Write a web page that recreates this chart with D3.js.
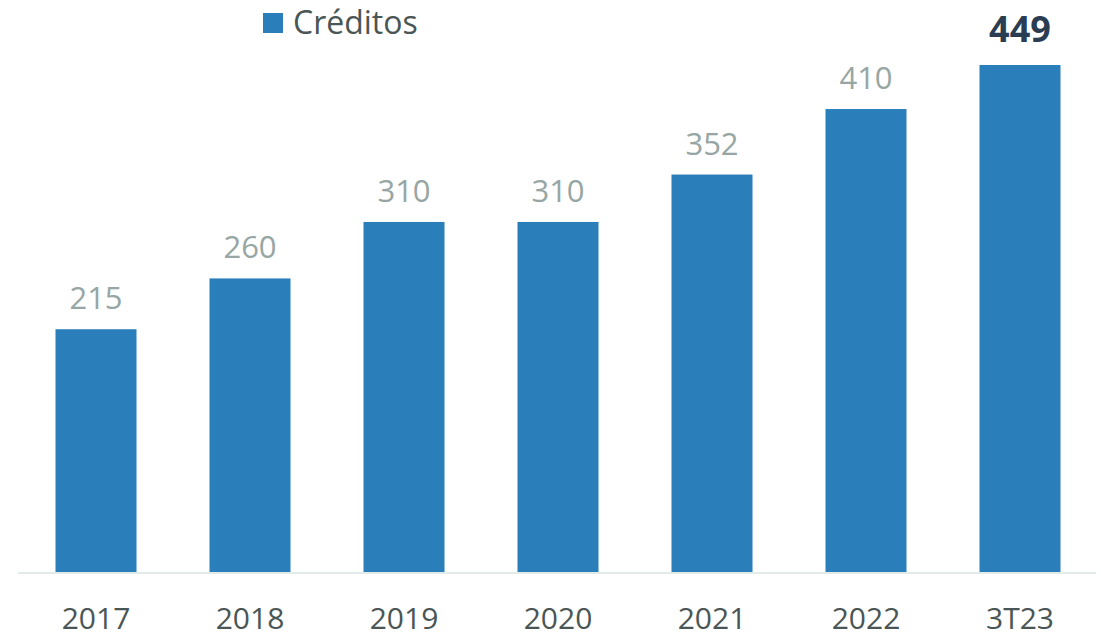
<!DOCTYPE html>
<html lang="es">
<head>
<meta charset="utf-8">
<title>Créditos</title>
<script src="https://d3js.org/d3.v7.min.js"></script>
<style>
  body { margin: 0; background: #fff; }
  svg text { font-family: "Open Sans", sans-serif; }
</style>
</head>
<body>
<div id="chart"></div>
<script>
// data
var categories = ["2017", "2018", "2019", "2020", "2021", "2022", "3T23"];
var creditos = [215, 260, 310, 310, 352, 410, 449];
var seriesName = "Créditos";

var width = 1101, height = 638;
var baseline = 572;

var svg = d3.select("#chart")
  .append("svg")
    .attr("width", width)
    .attr("height", height);

var x = d3.scaleBand()
  .domain(categories)
  .range([19, 1097])
  .paddingInner(0.474)
  .paddingOuter(0.237);

var y = d3.scaleLinear()
  .domain([0, 449])
  .range([baseline, 65]);

// bars
svg.selectAll(".bar")
  .data(creditos)
  .enter()
  .append("rect")
    .attr("class", "bar")
    .attr("x", function(d, i) { return x(categories[i]); })
    .attr("y", function(d) { return y(d); })
    .attr("width", x.bandwidth())
    .attr("height", function(d) { return baseline - y(d); })
    .attr("fill", "#2a7fba");

// baseline
svg.append("line")
  .attr("x1", 18).attr("x2", 1096)
  .attr("y1", baseline + 1).attr("y2", baseline + 1)
  .attr("stroke", "#e3eaea")
  .attr("stroke-width", 2);

// value labels
var last = creditos.length - 1;
svg.selectAll(".val")
  .data(creditos)
  .enter()
  .append("text")
    .attr("class", "val")
    .attr("x", function(d, i) { return x(categories[i]) + x.bandwidth() / 2; })
    .attr("y", function(d, i) { return y(d) - (i == last ? 23 : 20); })
    .attr("text-anchor", "middle")
    .style("font-size", function(d, i) { return i == last ? "36px" : "31px"; })
    .style("font-weight", function(d, i) { return i == last ? "bold" : "normal"; })
    .attr("fill", function(d, i) { return i == last ? "#2b3d52" : "#97a6a4"; })
    .text(function(d) { return d; });

// x axis labels
var xAxis = svg.append("g")
  .attr("transform", "translate(0," + baseline + ")")
  .call(d3.axisBottom(x).tickSize(0).tickPadding(0));
xAxis.select(".domain").remove();
xAxis.selectAll("text")
  .attr("dy", 0)
  .attr("y", 57)
  .style("font-size", "30px")
  .style("font-family", "'Open Sans', sans-serif")
  .attr("fill", "#4a5555");

// legend
var legend = svg.append("g").attr("transform", "translate(263,13)");
legend.append("rect")
  .attr("width", 20).attr("height", 20)
  .attr("fill", "#2a7fba");
legend.append("text")
  .attr("x", 30).attr("y", 21)
  .style("font-size", "32px")
  .attr("fill", "#4a5555")
  .text(seriesName);
</script>
</body>
</html>
